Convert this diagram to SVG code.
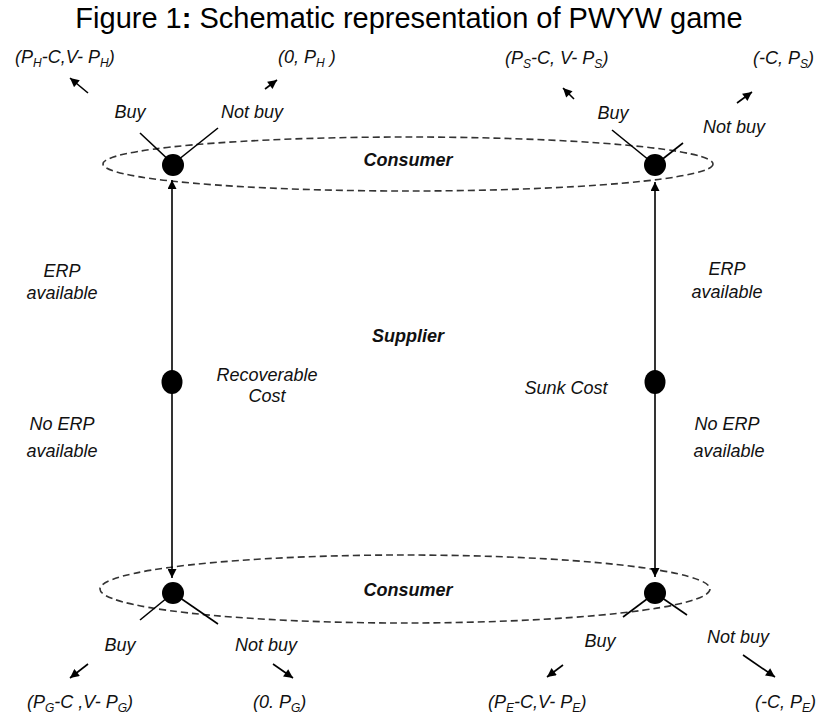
<svg xmlns="http://www.w3.org/2000/svg" width="817" height="715" viewBox="0 0 817 715">
<defs>
<marker id="ah" viewBox="0 0 10 10" refX="10" refY="5" markerWidth="10" markerHeight="9" markerUnits="userSpaceOnUse" orient="auto-start-reverse">
<path d="M0,0 L10,5 L0,10 z" fill="#000"/>
</marker>
<style>
.t{font-family:"Liberation Sans",Arial,sans-serif;font-style:italic;font-size:18px;fill:#111}
.b{font-weight:bold}
.m{text-anchor:middle}
.s{font-size:12px}
.ell{fill:none;stroke:#333;stroke-width:1.6;stroke-dasharray:7 4}
.br{stroke:#000;stroke-width:1.6}
.ar{stroke:#000;stroke-width:1.6;marker-end:url(#ah)}
.vl{stroke:#000;stroke-width:1.6;marker-start:url(#ah);marker-end:url(#ah)}
</style>
</defs>
<rect width="817" height="715" fill="#fff"/>
<text x="409" y="28" text-anchor="middle" font-family="Liberation Sans,Arial,sans-serif" font-size="29" fill="#000">Figure 1<tspan font-weight="bold">:</tspan> Schematic representation of PWYW game</text>

<g id="consumer-top">
<ellipse class="ell" cx="408" cy="164" rx="305" ry="27"/>
<text class="t b m" x="408" y="166">Consumer</text>
</g>
<g id="consumer-bottom">
<ellipse class="ell" cx="405" cy="589" rx="305" ry="34"/>
<text class="t b m" x="408" y="596">Consumer</text>
</g>

<g id="connectors">
<line class="vl" x1="172" y1="180" x2="172" y2="578"/>
<line class="vl" x1="655" y1="182" x2="655" y2="577"/>
<line class="br" x1="140" y1="133" x2="173" y2="164"/>
<line class="br" x1="218" y1="128" x2="173" y2="164"/>
<line class="br" x1="612" y1="130" x2="655" y2="165"/>
<line class="br" x1="683" y1="143" x2="655" y2="165"/>
<line class="br" x1="140" y1="620" x2="173" y2="593"/>
<line class="br" x1="218" y1="624" x2="173" y2="593"/>
<line class="br" x1="623" y1="617" x2="655" y2="593"/>
<line class="br" x1="687" y1="615" x2="655" y2="593"/>
<line class="ar" x1="88" y1="93" x2="70" y2="78"/>
<line class="ar" x1="265" y1="89" x2="277" y2="80"/>
<line class="ar" x1="574" y1="99" x2="563" y2="88"/>
<line class="ar" x1="737" y1="103" x2="752" y2="92"/>
<line class="ar" x1="88" y1="664" x2="70" y2="678"/>
<line class="ar" x1="273" y1="664" x2="293" y2="678"/>
<line class="ar" x1="563" y1="665" x2="547" y2="677"/>
<line class="ar" x1="743" y1="655" x2="775" y2="677"/>
</g>

<g id="node-top-left"><circle cx="173" cy="165" r="11"/></g>
<g id="node-top-right"><circle cx="655" cy="165" r="11"/></g>
<g id="node-bottom-left"><circle cx="173" cy="593" r="11"/></g>
<g id="node-bottom-right"><circle cx="655" cy="593" r="11"/></g>
<g id="node-supplier-left"><ellipse cx="172" cy="382" rx="10.5" ry="12"/></g>
<g id="node-supplier-right"><ellipse cx="655" cy="382" rx="10.5" ry="12"/></g>

<g id="supplier">
<text class="t b m" x="408" y="342">Supplier</text>
<text class="t m" x="267" y="381">Recoverable</text>
<text class="t m" x="267" y="402">Cost</text>
<text class="t m" x="566" y="394">Sunk Cost</text>
<text class="t m" x="62" y="277">ERP</text>
<text class="t m" x="62" y="299">available</text>
<text class="t m" x="62" y="430">No ERP</text>
<text class="t m" x="62" y="457">available</text>
<text class="t m" x="727" y="275">ERP</text>
<text class="t m" x="727" y="298">available</text>
<text class="t m" x="727" y="430">No ERP</text>
<text class="t m" x="729" y="457">available</text>
</g>

<g id="labels-top">
<text class="t m" x="130" y="118">Buy</text>
<text class="t m" x="252" y="118">Not buy</text>
<text class="t m" x="613" y="119">Buy</text>
<text class="t m" x="734" y="133">Not buy</text>
<text class="t" x="15" y="63">(P<tspan class="s" dy="4">H</tspan><tspan dy="-4">-C,V- P</tspan><tspan class="s" dy="4">H</tspan><tspan dy="-4">)</tspan></text>
<text class="t" x="278" y="63">(0, P<tspan class="s" dy="4">H</tspan><tspan dy="-4"> )</tspan></text>
<text class="t" x="505" y="64">(P<tspan class="s" dy="4">S</tspan><tspan dy="-4">-C, V- P</tspan><tspan class="s" dy="4">S</tspan><tspan dy="-4">)</tspan></text>
<text class="t" x="753" y="64">(-C, P<tspan class="s" dy="4">S</tspan><tspan dy="-4">)</tspan></text>
</g>

<g id="labels-bottom">
<text class="t m" x="120" y="651">Buy</text>
<text class="t m" x="266" y="651">Not buy</text>
<text class="t m" x="600" y="647">Buy</text>
<text class="t m" x="738" y="643">Not buy</text>
<text class="t" x="27" y="708">(P<tspan class="s" dy="4">G</tspan><tspan dy="-4">-C ,V- P</tspan><tspan class="s" dy="4">G</tspan><tspan dy="-4">)</tspan></text>
<text class="t" x="253" y="708">(0. P<tspan class="s" dy="4">G</tspan><tspan dy="-4">)</tspan></text>
<text class="t" x="488" y="708">(P<tspan class="s" dy="4">E</tspan><tspan dy="-4">-C,V- P</tspan><tspan class="s" dy="4">E</tspan><tspan dy="-4">)</tspan></text>
<text class="t" x="755" y="708">(-C, P<tspan class="s" dy="4">E</tspan><tspan dy="-4">)</tspan></text>
</g>
</svg>
